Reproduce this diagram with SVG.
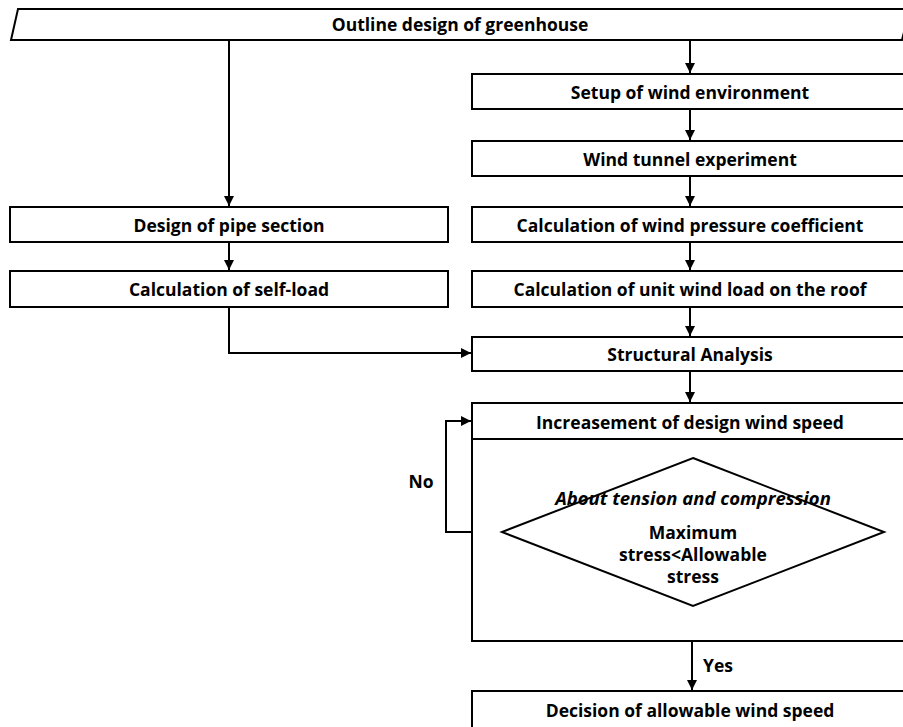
<svg xmlns="http://www.w3.org/2000/svg" width="903" height="727" viewBox="0 0 903 727">
<defs>
<style>
.box{fill:#fff;stroke:#000;stroke-width:2}
.t{font-family:"Open Sans","Liberation Sans",Arial,sans-serif;font-weight:bold;font-size:17.5px;fill:#000;text-anchor:middle}
.i{font-style:italic;font-size:18.5px}
.c{fill:none;stroke:#000;stroke-width:2}
</style>
<marker id="ah" viewBox="0 0 10 10" refX="10" refY="5" markerWidth="10" markerHeight="10" markerUnits="userSpaceOnUse" orient="auto">
<path d="M0,0 L10,5 L0,10 z" fill="#000"/>
</marker>
</defs>
<rect width="903" height="727" fill="#fff"/>
<g id="connectors">
<line class="c" x1="229" y1="41" x2="229" y2="206" marker-end="url(#ah)"/>
<line class="c" x1="690" y1="41" x2="690" y2="73" marker-end="url(#ah)"/>
<line class="c" x1="690" y1="109" x2="690" y2="140" marker-end="url(#ah)"/>
<line class="c" x1="690" y1="176" x2="690" y2="206" marker-end="url(#ah)"/>
<line class="c" x1="229" y1="242" x2="229" y2="270" marker-end="url(#ah)"/>
<line class="c" x1="690" y1="242" x2="690" y2="270" marker-end="url(#ah)"/>
<line class="c" x1="690" y1="307" x2="690" y2="336" marker-end="url(#ah)"/>
<polyline class="c" points="229,307 229,353 471,353" marker-end="url(#ah)"/>
<line class="c" x1="690" y1="371" x2="690" y2="402" marker-end="url(#ah)"/>
<polyline class="c" points="502,532 446,532 446,421 471,421" marker-end="url(#ah)"/>
<line class="c" x1="692" y1="606" x2="692" y2="690" marker-end="url(#ah)"/>
<text class="t" x="421" y="488">No</text>
<text class="t" x="718" y="672">Yes</text>
</g>
<g id="outline">
<polygon class="box" points="18,9 910,9 902,40 11,40"/>
<text class="t" x="460" y="31">Outline design of greenhouse</text>
</g>
<g id="setup">
<rect class="box" x="472" y="74" width="440" height="35"/>
<text class="t" x="690" y="99">Setup of wind environment</text>
</g>
<g id="tunnel">
<rect class="box" x="472" y="141" width="440" height="35"/>
<text class="t" x="690" y="166">Wind tunnel experiment</text>
</g>
<g id="pressure">
<rect class="box" x="472" y="207" width="440" height="35"/>
<text class="t" x="690" y="232">Calculation of wind pressure coefficient</text>
</g>
<g id="pipe">
<rect class="box" x="10" y="207" width="438" height="35"/>
<text class="t" x="229" y="232">Design of pipe section</text>
</g>
<g id="selfload">
<rect class="box" x="10" y="271" width="438" height="36"/>
<text class="t" x="229" y="296">Calculation of self-load</text>
</g>
<g id="unitload">
<rect class="box" x="472" y="271" width="440" height="36"/>
<text class="t" x="690" y="296">Calculation of unit wind load on the roof</text>
</g>
<g id="structural">
<rect class="box" x="472" y="337" width="440" height="34"/>
<text class="t" x="690" y="361">Structural Analysis</text>
</g>
<g id="increase">
<rect class="box" x="472" y="403" width="440" height="238"/>
<line class="c" x1="472" y1="439" x2="912" y2="439"/>
<text class="t" x="690" y="429">Increasement of design wind speed</text>
</g>
<g id="decision">
<polygon class="box" points="693,458 884,532 693,606 502,532"/>
<text class="t i" x="693" y="505">About tension and compression</text>
<text class="t" x="693" y="539">Maximum</text>
<text class="t" x="693" y="561">stress&lt;Allowable</text>
<text class="t" x="693" y="583">stress</text>
</g>
<g id="final">
<rect class="box" x="472" y="691" width="440" height="50"/>
<text class="t" x="690" y="717">Decision of allowable wind speed</text>
</g>
</svg>
